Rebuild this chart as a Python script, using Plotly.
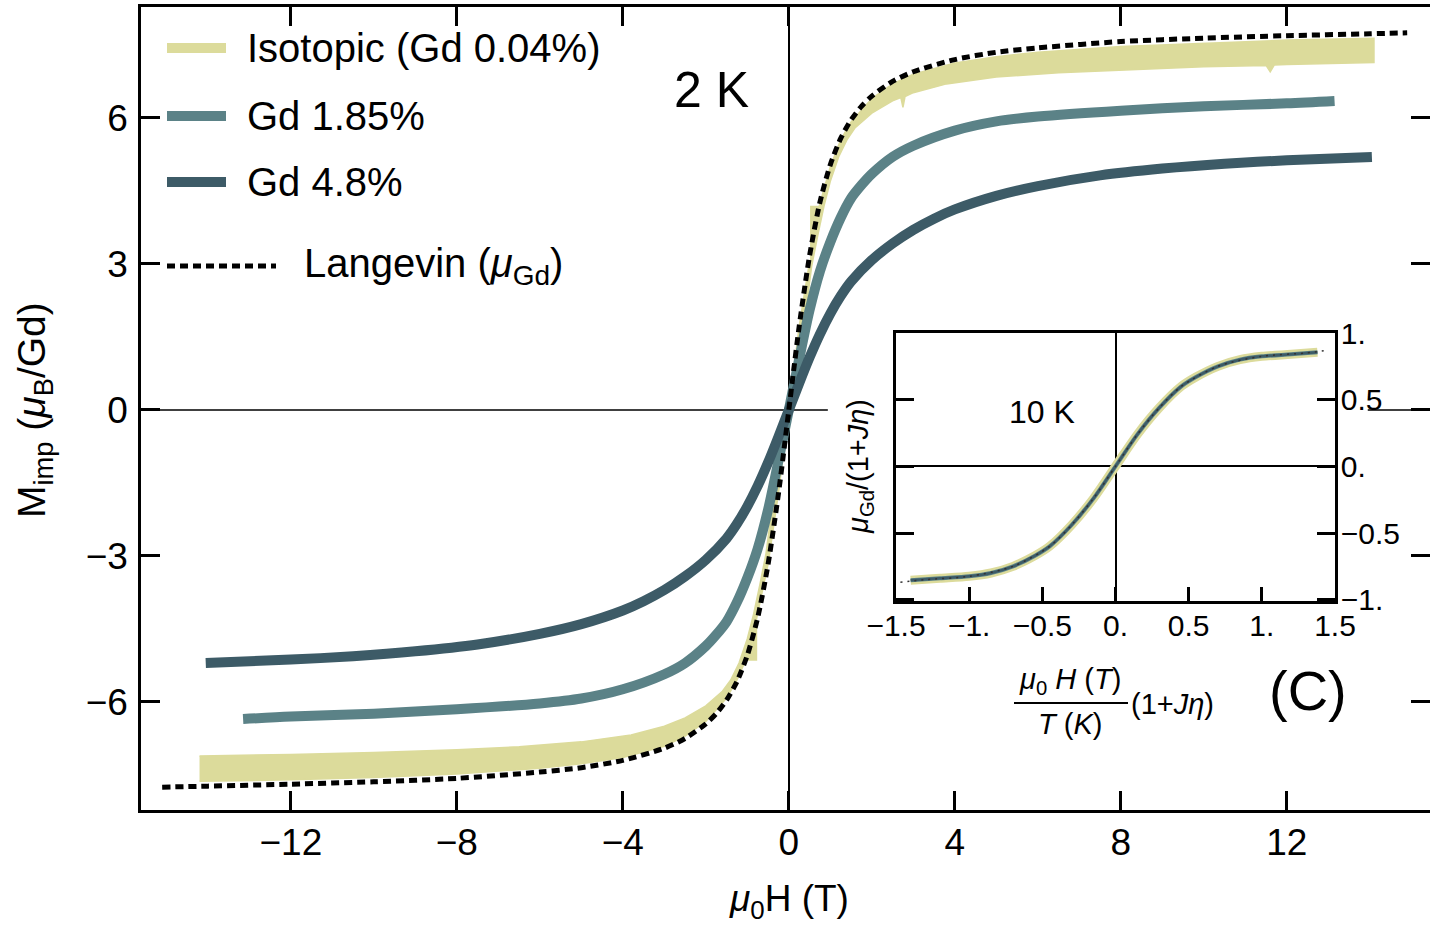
import plotly.graph_objects as go

# ---------------- data (μ0H in T, M in μB/Gd) ----------------
# Langevin curve for a free Gd moment at 2 K
field_langevin = [-15.1, -14.0, -12.0, -10.0, -8.0, -6.0, -5.0, -4.0, -3.0, -2.5, -2.0, -1.75,
                  -1.5, -1.25, -1.0, -0.75, -0.5, -0.25, -0.1, 0.0, 0.1, 0.25, 0.5, 0.75, 1.0,
                  1.25, 1.5, 1.75, 2.0, 2.5, 3.0, 4.0, 5.0, 6.0, 8.0, 10.0, 12.0, 14.0, 14.9]
m_langevin = [-7.75, -7.73, -7.69, -7.64, -7.57, -7.44, -7.35, -7.20, -6.95, -6.75, -6.45, -6.24,
              -5.96, -5.58, -5.04, -4.27, -3.17, -1.72, -0.70, 0.0, 0.70, 1.72, 3.17, 4.27, 5.04,
              5.58, 5.96, 6.24, 6.45, 6.75, 6.95, 7.20, 7.35, 7.44, 7.57, 7.64, 7.69, 7.73, 7.75]

# Gd 1.85 %
field_185 = [-13.15, -12.0, -10.0, -8.0, -6.0, -5.0, -4.0, -3.0, -2.5, -2.0, -1.75, -1.5, -1.25,
             -1.0, -0.75, -0.5, -0.25, 0.0, 0.25, 0.5, 0.75, 1.0, 1.25, 1.5, 1.75, 2.0, 2.5, 3.0,
             4.0, 5.0, 6.0, 8.0, 10.0, 12.0, 13.15]
m_185 = [-6.35, -6.30, -6.24, -6.15, -6.03, -5.93, -5.74, -5.43, -5.20, -4.85, -4.62, -4.35,
         -3.95, -3.45, -2.85, -2.05, -1.05, 0.0, 1.05, 2.05, 2.85, 3.45, 3.95, 4.35, 4.62, 4.85,
         5.20, 5.43, 5.74, 5.93, 6.03, 6.15, 6.24, 6.30, 6.35]

# Gd 4.8 %
field_48 = [-14.05, -12.0, -10.5, -9.0, -7.5, -6.0, -5.0, -4.0, -3.5, -3.0, -2.5, -2.0, -1.5,
            -1.25, -1.0, -0.75, -0.5, -0.25, 0.0, 0.25, 0.5, 0.75, 1.0, 1.25, 1.5, 2.0, 2.5,
            3.0, 3.5, 4.0, 5.0, 6.0, 7.5, 9.0, 10.5, 12.0, 14.05]
m_48 = [-5.20, -5.13, -5.06, -4.96, -4.82, -4.60, -4.40, -4.12, -3.93, -3.70, -3.42, -3.08,
        -2.64, -2.34, -1.98, -1.56, -1.08, -0.55, 0.0, 0.55, 1.08, 1.56, 1.98, 2.34, 2.64, 3.08,
        3.42, 3.70, 3.93, 4.12, 4.40, 4.60, 4.82, 4.96, 5.06, 5.13, 5.20]

# Isotopic sample (Gd 0.04 %): measured band, lower and upper envelopes
iso_low_x = [-14.2, -12.0, -10.0, -8.0, -6.0, -5.0, -4.0, -3.0, -2.5, -2.0, -1.5, -1.25, -1.04,
             -0.78, -0.78, -0.5, -0.25, 0.0, 0.1, 0.25, 0.4, 0.55, 0.7, 0.85, 1.0, 1.2, 1.4, 1.6,
             2.0, 2.5, 2.7, 2.75, 2.8, 3.0, 3.8, 5.0, 6.5, 8.0, 10.0, 11.5, 11.6, 11.7, 12.0,
             14.1]
iso_low_y = [-7.63, -7.60, -7.55, -7.48, -7.36, -7.27, -7.14, -6.91, -6.70, -6.40, -5.92, -5.55,
             -5.14, -5.14, -4.30, -3.17, -1.72, 0.0, 0.0, 1.0, 2.0, 2.95, 3.6, 4.2, 4.7, 5.2, 5.55,
             5.8, 6.1, 6.35, 6.42, 6.22, 6.44, 6.52, 6.70, 6.84, 6.93, 6.98, 7.05, 7.08, 6.95,
             7.09, 7.10, 7.14]
iso_up_x = [-14.2, -12.0, -10.0, -8.0, -6.5, -5.0, -3.8, -3.0, -2.5, -2.0, -1.6, -1.4, -1.2, -1.0,
            -0.85, -0.7, -0.55, -0.4, -0.25, -0.1, 0.0, 0.25, 0.5, 0.53, 0.53, 0.73, 1.0, 1.25,
            1.5, 2.0, 2.5, 3.0, 4.0, 5.0, 6.0, 8.0, 10.0, 12.0, 14.1]
iso_up_y = [-7.11, -7.08, -7.04, -6.98, -6.92, -6.82, -6.68, -6.50, -6.33, -6.08, -5.78, -5.55,
            -5.2, -4.7, -4.2, -3.6, -2.95, -2.0, -1.0, 0.0, 0.0, 1.72, 3.05, 3.1, 4.18, 4.18, 5.0,
            5.55, 5.92, 6.40, 6.70, 6.90, 7.13, 7.26, 7.35, 7.47, 7.54, 7.60, 7.64]

# Inset: scaled data at 10 K and the scaled Langevin fit
inset_x = [-1.40, -1.2, -1.0, -0.85, -0.7, -0.55, -0.45, -0.3, -0.15, 0.0, 0.15, 0.3, 0.45,
           0.55, 0.7, 0.85, 1.0, 1.2, 1.38]
inset_y = [-0.855, -0.84, -0.825, -0.80, -0.75, -0.67, -0.60, -0.44, -0.24, 0.0, 0.24, 0.44,
           0.60, 0.67, 0.75, 0.80, 0.825, 0.84, 0.855]
inset_fit_x = [-1.47, -1.3, -1.0, -0.7, -0.45, -0.3, -0.15, 0.0, 0.15, 0.3, 0.45, 0.7, 1.0, 1.3,
               1.45]
inset_fit_y = [-0.87, -0.85, -0.825, -0.75, -0.60, -0.44, -0.24, 0.0, 0.24, 0.44, 0.60, 0.75,
               0.825, 0.85, 0.87]

main_xticks = [-12, -8, -4, 0, 4, 8, 12]
main_yticks = [-6, -3, 0, 3, 6]
inset_xticks = [-1.5, -1.0, -0.5, 0.0, 0.5, 1.0, 1.5]
inset_xticktext = ["\u22121.5", "\u22121.", "\u22120.5", "0.", "0.5", "1.", "1.5"]
inset_yticks = [-1.0, -0.5, 0.0, 0.5, 1.0]
inset_yticktext = ["\u22121.", "\u22120.5", "0.", "0.5", "1."]

legend_labels = ["Isotopic (Gd 0.04%)", "Gd 1.85%", "Gd 4.8%", "Langevin (<i>\u03bc</i><sub>Gd</sub>)"]

# ---------------- styling ----------------
ISO = "#dcdb9b"
C185 = "#5b8287"
C48 = "#3d5b67"
FONT = "Liberation Sans, Arial, sans-serif"
W, H = 1430, 927


def fx(p):
    return p / W


def fy(p):
    return 1 - p / H


fig = go.Figure()

fig.add_trace(go.Scatter(
    x=iso_low_x + iso_up_x[::-1], y=iso_low_y + iso_up_y[::-1],
    mode="lines", fill="toself", fillcolor=ISO, line=dict(color=ISO, width=1.5),
    hoverinfo="skip", showlegend=False))
fig.add_trace(go.Scatter(
    x=field_185, y=m_185, mode="lines",
    line=dict(color=C185, width=10, shape="spline", smoothing=0.8), showlegend=False))
fig.add_trace(go.Scatter(
    x=field_48, y=m_48, mode="lines",
    line=dict(color=C48, width=10, shape="spline", smoothing=0.8), showlegend=False))
fig.add_trace(go.Scatter(
    x=field_langevin, y=m_langevin, mode="lines",
    line=dict(color="black", width=5, dash="8px,5px", shape="spline", smoothing=0.7),
    showlegend=False))

# inset traces
fig.add_trace(go.Scatter(
    x=inset_x, y=inset_y, xaxis="x2", yaxis="y2", mode="lines",
    line=dict(color=ISO, width=9, shape="spline", smoothing=0.8), showlegend=False))
fig.add_trace(go.Scatter(
    x=inset_x, y=inset_y, xaxis="x2", yaxis="y2", mode="lines",
    line=dict(color=C185, width=4, shape="spline", smoothing=0.8), showlegend=False))
fig.add_trace(go.Scatter(
    x=inset_x, y=inset_y, xaxis="x2", yaxis="y2", mode="lines",
    line=dict(color=C48, width=2.5, shape="spline", smoothing=0.8), showlegend=False))
fig.add_trace(go.Scatter(
    x=inset_fit_x, y=inset_fit_y, xaxis="x2", yaxis="y2", mode="lines",
    line=dict(color="#333333", width=1.5, dash="2px,5px", shape="spline", smoothing=0.8),
    showlegend=False))

axis_common = dict(showgrid=False, showline=True, linecolor="black", ticks="inside",
                   tickcolor="black", color="black", automargin=False)

fig.update_layout(
    width=W, height=H,
    margin=dict(l=0, r=0, t=0, b=0, pad=0, autoexpand=False),
    paper_bgcolor="white", plot_bgcolor="white",
    font=dict(family=FONT, color="black"),
    showlegend=False,
    xaxis=dict(**axis_common, domain=[fx(141), 1.0], range=[-15.61, 15.45],
               tickvals=main_xticks, ticklen=19, tickwidth=2.5, linewidth=2.5,
               mirror="allticks", zeroline=True, zerolinecolor="black", zerolinewidth=1.5,
               tickfont=dict(size=37), ticklabelstandoff=-2, anchor="y"),
    yaxis=dict(**axis_common, domain=[1 - 810 / H, 1 - 7 / H], range=[-8.22, 8.28],
               tickvals=main_yticks, ticklen=19, tickwidth=2.5, linewidth=2.5,
               mirror="allticks", zeroline=False, tickfont=dict(size=37),
               ticklabelstandoff=3, anchor="x"),
    xaxis2=dict(**axis_common, domain=[fx(896), fx(1335)], range=[-1.5, 1.5],
                tickvals=inset_xticks, ticktext=inset_xticktext, ticklen=14, tickwidth=2.5,
                linewidth=2.5, mirror=True, zeroline=True, zerolinecolor="black",
                zerolinewidth=1.5, tickfont=dict(size=30), ticklabelstandoff=-4, anchor="y2"),
    yaxis2=dict(**axis_common, domain=[fy(601), fy(333)], range=[-1.01, 1.0],
                tickvals=inset_yticks, ticktext=inset_yticktext, ticklen=18, tickwidth=2.5,
                linewidth=2.5, mirror="allticks", side="right", zeroline=True,
                zerolinecolor="black", zerolinewidth=1.5, tickfont=dict(size=30),
                ticklabelstandoff=-3, anchor="x2"),
)

shapes = []
# main y = 0 reference line, interrupted by the inset
for x0, x1 in [(-15.61, 0.94), (13.95, 15.45)]:
    shapes.append(dict(type="line", xref="x", yref="y", x0=x0, x1=x1, y0=0, y1=0,
                       line=dict(color="black", width=1.5), layer="below"))

# legend samples
legend_rows = [48, 116, 182, 266]
legend_colors = [ISO, C185, C48]
for yy, col in zip(legend_rows[:3], legend_colors):
    shapes.append(dict(type="line", xref="paper", yref="paper", x0=fx(167), x1=fx(226),
                       y0=fy(yy), y1=fy(yy), line=dict(color=col, width=10)))
shapes.append(dict(type="line", xref="paper", yref="paper", x0=fx(167), x1=fx(276),
                   y0=fy(266), y1=fy(266), line=dict(color="black", width=5, dash="8px,5px")))
# fraction bar of the inset x label
shapes.append(dict(type="line", xref="paper", yref="paper", x0=fx(1014), x1=fx(1128),
                   y0=fy(703), y1=fy(703), line=dict(color="black", width=2)))
fig.update_layout(shapes=shapes)

ann = []
text_x = [245, 245, 245, 302]
for lab, yy, xx in zip(legend_labels, legend_rows, text_x):
    ann.append(dict(text=lab, x=fx(xx), y=fy(yy), xref="paper", yref="paper",
                    xanchor="left", yanchor="middle", showarrow=False, font=dict(size=40)))

ann += [
    dict(text="2 K", x=fx(711), y=fy(90), font=dict(size=50)),
    dict(text="<i>\u03bc</i><sub>0</sub>H (T)", x=fx(789), y=fy(901), font=dict(size=37)),
    dict(text="M<sub>imp</sub> (<i>\u03bc</i><sub>B</sub>/Gd)", x=fx(35), y=fy(410),
         textangle=-90, font=dict(size=39)),
    dict(text="10 K", x=fx(1042), y=fy(412), font=dict(size=32)),
    dict(text="<i>\u03bc</i><sub>Gd</sub>/(1+<i>J\u03b7</i>)", x=fx(860), y=fy(466),
         textangle=-90, font=dict(size=29)),
    dict(text="<i>\u03bc</i><sub>0</sub> <i>H</i> (<i>T</i>)", x=fx(1070), y=fy(681),
         font=dict(size=29)),
    dict(text="<i>T</i> (<i>K</i>)", x=fx(1070), y=fy(724), font=dict(size=29)),
    dict(text="(1+<i>J\u03b7</i>)", x=fx(1172), y=fy(704), font=dict(size=29)),
    dict(text="(C)", x=fx(1308), y=fy(690), font=dict(size=56)),
]
for a in ann:
    a.setdefault("xref", "paper")
    a.setdefault("yref", "paper")
    a.setdefault("showarrow", False)
    a.setdefault("xanchor", "center")
    a.setdefault("yanchor", "middle")
fig.update_layout(annotations=ann)

fig.write_html("out.html")
